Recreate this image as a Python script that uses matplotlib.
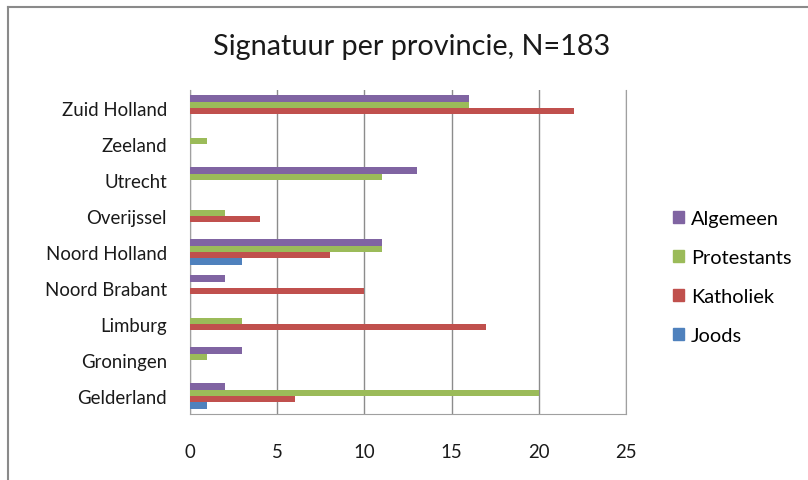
import numpy as np
import matplotlib
matplotlib.use('Agg')
import matplotlib.pyplot as plt
from matplotlib.lines import Line2D
from matplotlib.patches import Patch

plt.rcParams['font.family'] = ['Lato', 'DejaVu Sans']

# categories, bottom to top as drawn
provinces = ['Gelderland', 'Groningen', 'Limburg', 'Noord Brabant', 'Noord Holland',
             'Overijssel', 'Utrecht', 'Zeeland', 'Zuid Holland']
joods = [1, 0, 0, 0, 3, 0, 0, 0, 0]
katholiek = [6, 0, 17, 10, 8, 4, 0, 0, 22]
protestants = [20, 1, 3, 0, 11, 2, 11, 1, 16]
algemeen = [2, 3, 0, 2, 11, 0, 13, 0, 16]

series = [('Joods', joods, '#4F81BD'),
          ('Katholiek', katholiek, '#C0504D'),
          ('Protestants', protestants, '#9BBB59'),
          ('Algemeen', algemeen, '#8064A2')]

fig = plt.figure(figsize=(8.08, 4.81), dpi=100)
ax = fig.add_axes([190/808, 1-415/481, (626-190)/808, (415-91)/481])

y = np.arange(len(provinces))
h = 0.18
for i, (name, vals, col) in enumerate(series):
    ax.barh(y + (i - 1.5) * h, vals, height=h, color=col, label=name, zorder=3)

ax.set_xlim(0, 25)
ax.set_ylim(-0.5, len(provinces) - 0.5)
ax.set_xticks([0, 5, 10, 15, 20, 25])
ax.set_yticks(y)
ax.set_yticklabels(provinces)
ax.xaxis.grid(True, color='#8c8c8c', linewidth=1, zorder=0)
ax.tick_params(axis='both', length=0, labelsize=13.4, colors='#1a1a1a')
ax.tick_params(axis='x', pad=21)
ax.tick_params(axis='y', pad=16.5)
for s in ax.spines.values():
    s.set_color('#a0a0a0')
ax.spines['top'].set_visible(False)

fig.text(412/808, 1-47/481, 'Signatuur per provincie, N=183', ha='center', va='center',
         fontsize=20.8, color='#1a1a1a')

handles = [Patch(color=c) for _, _, c in series[::-1]]
labels = [n for n, _, _ in series[::-1]]
fig.legend(handles, labels, loc='center left', bbox_to_anchor=(655/808, 1-278/481),
           frameon=False, fontsize=14.4, handlelength=0.55, handleheight=0.55,
           handletextpad=0.35, labelspacing=1.1)

# outer chart frame (top and left edges visible in the crop)
fig.add_artist(Line2D([8/808, 8/808], [0, 1-8/481], color='#8a8a8a', linewidth=1.5))
fig.add_artist(Line2D([8/808, 1], [1-8/481, 1-8/481], color='#8a8a8a', linewidth=1.5))

fig.savefig('out.png', dpi=100)
